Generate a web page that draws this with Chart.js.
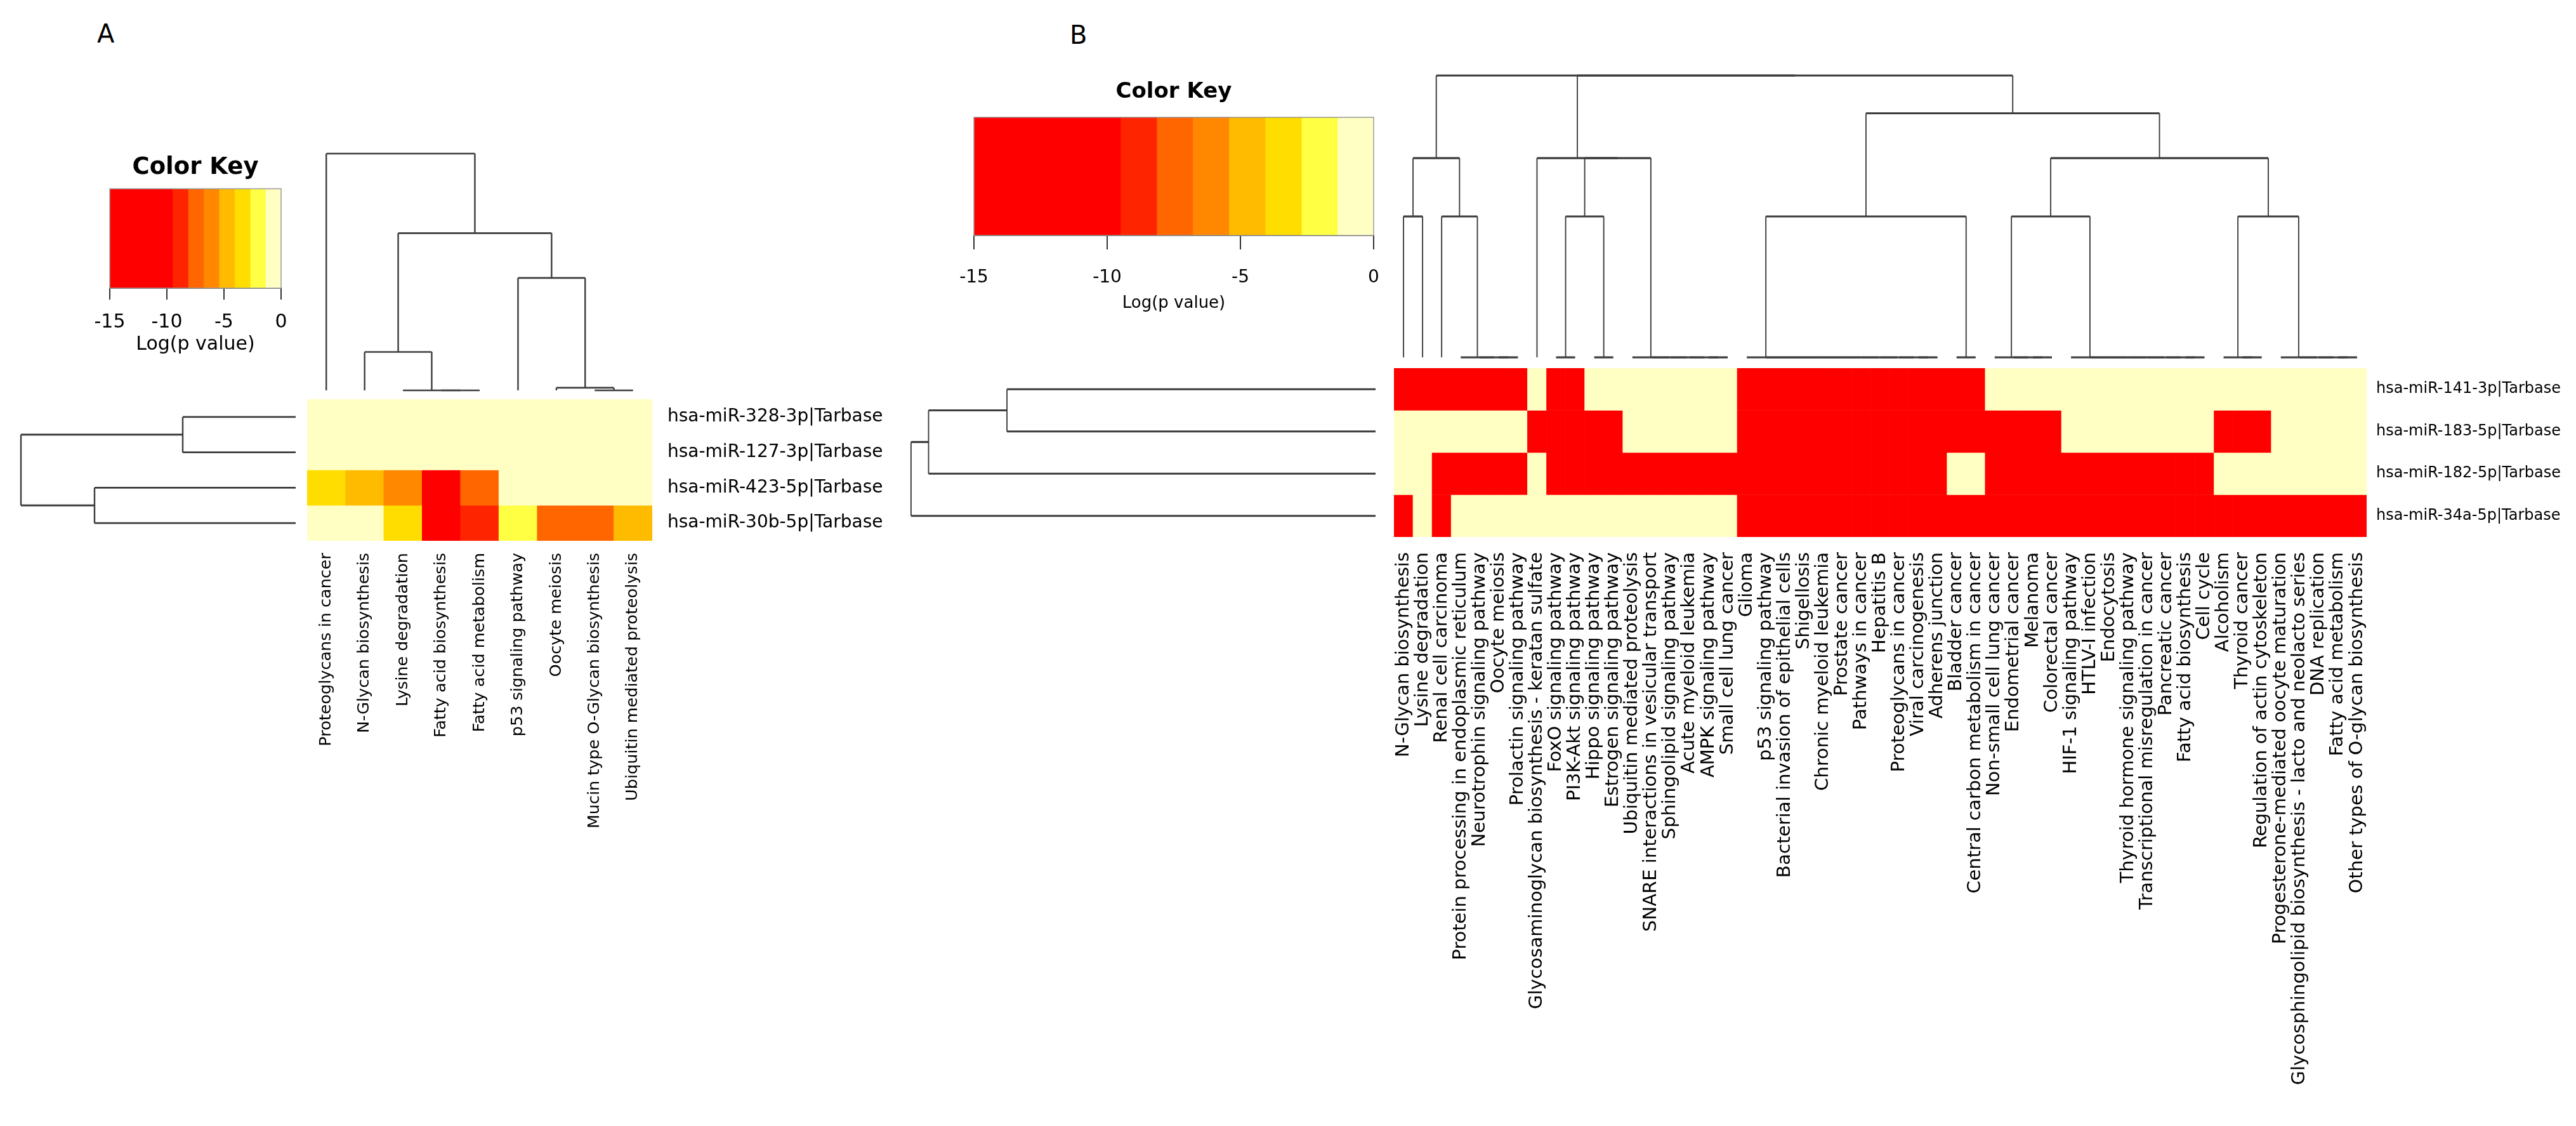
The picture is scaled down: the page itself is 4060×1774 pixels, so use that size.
<!DOCTYPE html>
<html>
<head>
<meta charset="utf-8">
<title>miRNA pathway heatmaps</title>
<script src="https://cdn.jsdelivr.net/npm/chart.js@4.4.1/dist/chart.umd.min.js"></script>
<style>
  html, body { margin: 0; padding: 0; background: #fff; }
  body { width: 4060px; height: 1774px; position: relative; overflow: hidden; font-family: "DejaVu Sans", sans-serif; }
  canvas { position: absolute; }
  .panel_letter { position: absolute; font-size: 40px; line-height: 40px; color: #000; }
</style>
</head>
<body>
<div class="panel_letter" style="left:153px;top:33px">A</div>
<div class="panel_letter" style="left:1686px;top:35px">B</div>
<script>
// ---- colour key: log(p value) bands ----
let keyBreaks = [-15, -9.5, -8.14, -6.79, -5.43, -4.07, -2.71, -1.36, 0];
let keyColors = ["#ff0000", "#ff2400", "#ff6600", "#ff8800", "#ffbb00", "#ffdd00", "#ffff44", "#ffffc4"];
let keyTicks = [-15, -10, -5, 0];

// ---- panel A ----
let pathwaysA = ["Proteoglycans in cancer", "N-Glycan biosynthesis", "Lysine degradation",
  "Fatty acid biosynthesis", "Fatty acid metabolism", "p53 signaling pathway", "Oocyte meiosis",
  "Mucin type O-Glycan biosynthesis", "Ubiquitin mediated proteolysis"];
let mirnasA = ["hsa-miR-328-3p|Tarbase", "hsa-miR-127-3p|Tarbase", "hsa-miR-423-5p|Tarbase", "hsa-miR-30b-5p|Tarbase"];
let logpA_328 = [0, 0, 0, 0, 0, 0, 0, 0, 0];
let logpA_127 = [0, 0, 0, 0, 0, 0, 0, 0, 0];
let logpA_423 = [-3.4, -4.8, -6.2, -13.0, -7.4, 0, 0, 0, 0];
let logpA_30b = [0, 0, -3.4, -13.0, -8.8, -2.0, -7.4, -7.4, -4.8];
// trees: [left, right, height]  negative = leaf (1-based position), positive = earlier merge
let colMergeA = [[-8, -9, 0], [-7, 1, 0.11], [-4, -5, 0], [-3, 3, 0], [-2, 4, 1.62],
  [-6, 2, 4.75], [5, 6, 6.64], [-1, 7, 10]];
let rowMergeA = [[-1, -2, 1.78], [-3, -4, 3.17], [1, 2, 4.33]];

// ---- panel B ----
let pathwaysB = ["N-Glycan biosynthesis", "Lysine degradation", "Renal cell carcinoma",
  "Protein processing in endoplasmic reticulum", "Neurotrophin signaling pathway", "Oocyte meiosis",
  "Prolactin signaling pathway", "Glycosaminoglycan biosynthesis - keratan sulfate", "FoxO signaling pathway",
  "PI3K-Akt signaling pathway", "Hippo signaling pathway", "Estrogen signaling pathway",
  "Ubiquitin mediated proteolysis", "SNARE interactions in vesicular transport", "Sphingolipid signaling pathway",
  "Acute myeloid leukemia", "AMPK signaling pathway", "Small cell lung cancer", "Glioma",
  "p53 signaling pathway", "Bacterial invasion of epithelial cells", "Shigellosis", "Chronic myeloid leukemia",
  "Prostate cancer", "Pathways in cancer", "Hepatitis B", "Proteoglycans in cancer", "Viral carcinogenesis",
  "Adherens junction", "Bladder cancer", "Central carbon metabolism in cancer", "Non-small cell lung cancer",
  "Endometrial cancer", "Melanoma", "Colorectal cancer", "HIF-1 signaling pathway", "HTLV-I infection",
  "Endocytosis", "Thyroid hormone signaling pathway", "Transcriptional misregulation in cancer",
  "Pancreatic cancer", "Fatty acid biosynthesis", "Cell cycle", "Alcoholism", "Thyroid cancer",
  "Regulation of actin cytoskeleton", "Progesterone-mediated oocyte maturation",
  "Glycosphingolipid biosynthesis - lacto and neolacto series", "DNA replication", "Fatty acid metabolism",
  "Other types of O-glycan biosynthesis"];
let mirnasB = ["hsa-miR-141-3p|Tarbase", "hsa-miR-183-5p|Tarbase", "hsa-miR-182-5p|Tarbase", "hsa-miR-34a-5p|Tarbase"];
let logpB_141 = [-12, -12, -12, -12, -12, -12, -12, 0, -12, -12,
  0, 0, 0, 0, 0, 0, 0, 0, -12, -12,
  -12, -12, -12, -12, -12, -12, -12, -12, -12, -12,
  -12, 0, 0, 0, 0, 0, 0, 0, 0, 0,
  0, 0, 0, 0, 0, 0, 0, 0, 0, 0,
  0];
let logpB_183 = [0, 0, 0, 0, 0, 0, 0, -12, -12, -12,
  -12, -12, 0, 0, 0, 0, 0, 0, -12, -12,
  -12, -12, -12, -12, -12, -12, -12, -12, -12, -12,
  -12, -12, -12, -12, -12, 0, 0, 0, 0, 0,
  0, 0, 0, -12, -12, -12, 0, 0, 0, 0,
  0];
let logpB_182 = [0, 0, -12, -12, -12, -12, -12, 0, -12, -12,
  -12, -12, -12, -12, -12, -12, -12, -12, -12, -12,
  -12, -12, -12, -12, -12, -12, -12, -12, -12, 0,
  0, -12, -12, -12, -12, -12, -12, -12, -12, -12,
  -12, -12, -12, 0, 0, 0, 0, 0, 0, 0,
  0];
let logpB_34a = [-12, 0, -12, 0, 0, 0, 0, 0, 0, 0,
  0, 0, 0, 0, 0, 0, 0, 0, -12, -12,
  -12, -12, -12, -12, -12, -12, -12, -12, -12, -12,
  -12, -12, -12, -12, -12, -12, -12, -12, -12, -12,
  -12, -12, -12, -12, -12, -12, -12, -12, -12, -12,
  -12];
let colMergeB = [[-6, -7, 0], [-5, 1, 0], [-4, 2, 0], [-1, -2, 1], [-3, 3, 1], [4, 5, 1.414],
  [-9, -10, 0], [-11, -12, 0], [7, 8, 1], [-17, -18, 0], [-16, 10, 0], [-15, 11, 0], [-14, 12, 0],
  [-13, 13, 0], [9, 14, 1.414], [-8, 15, 1.414],
  [-28, -29, 0], [-27, 17, 0], [-26, 18, 0], [-25, 19, 0], [-24, 20, 0], [-23, 21, 0], [-22, 22, 0],
  [-21, 23, 0], [-20, 24, 0], [-19, 25, 0], [-30, -31, 0], [26, 27, 1],
  [-34, -35, 0], [-33, 29, 0], [-32, 30, 0], [-42, -43, 0], [-41, 32, 0], [-40, 33, 0], [-39, 34, 0],
  [-38, 35, 0], [-37, 36, 0], [-36, 37, 0], [31, 38, 1], [-45, -46, 0], [-44, 40, 0],
  [-50, -51, 0], [-49, 42, 0], [-48, 43, 0], [-47, 44, 0], [41, 45, 1], [39, 46, 1.414],
  [28, 47, 1.732], [16, 48, 2], [6, 49, 2]];
let rowMergeB = [[-1, -2, 4.123], [-3, 1, 5.0], [2, -4, 5.196]];

// ---- page layout (pixels) ----
let heatA = { left: 484, top: 629, right: 1028, bottom: 852 };
let heatB = { left: 2197, top: 580, right: 3730, bottom: 846 };

Chart.defaults.font.family = "'DejaVu Sans', sans-serif";
Chart.defaults.color = "#000";

function placeCanvas(left, top, width, height) {
  let cv = document.createElement("canvas");
  cv.width = width;
  cv.height = height;
  cv.style.left = left + "px";
  cv.style.top = top + "px";
  cv.style.width = width + "px";
  cv.style.height = height + "px";
  document.body.appendChild(cv);
  return cv;
}

function heatColor(v) {
  for (let i = 0; i < keyColors.length; i++) {
    if (v < keyBreaks[i + 1]) return keyColors[i];
  }
  return keyColors[keyColors.length - 1];
}

// light grey frame round the key strip
let keyFrame = {
  id: "keyFrame",
  afterDatasetsDraw(chart) {
    let a = chart.chartArea, ctx = chart.ctx;
    ctx.save();
    ctx.strokeStyle = "#9a9a9a";
    ctx.lineWidth = 1.5;
    ctx.strokeRect(a.left, a.top, a.right - a.left, a.bottom - a.top);
    ctx.restore();
  }
};

function drawKey(box, st) {
  let pad = 45;
  let cv = placeCanvas(box.left - pad, st.canvasTop, box.right - box.left + 2 * pad, st.canvasBottom - st.canvasTop);
  let datasets = keyColors.map((c, i) => ({
    data: [[keyBreaks[i], keyBreaks[i + 1]]],
    backgroundColor: c,
    borderWidth: 0,
    grouped: false,
    barPercentage: 1,
    categoryPercentage: 1
  }));
  new Chart(cv, {
    type: "bar",
    data: { labels: ["key"], datasets: datasets },
    options: {
      indexAxis: "y",
      responsive: false,
      animation: false,
      events: [],
      layout: { padding: { left: pad, right: pad, top: 0, bottom: 0 } },
      plugins: {
        legend: { display: false },
        tooltip: { enabled: false },
        title: {
          display: true, text: "Color Key", color: "#000",
          font: { size: st.titleSize, weight: "bold" },
          padding: { top: 0, bottom: st.canvasTopGap }
        }
      },
      scales: {
        x: {
          type: "linear", min: keyTicks[0], max: keyTicks[keyTicks.length - 1],
          afterBuildTicks: (axis) => { axis.ticks = keyTicks.map((v) => ({ value: v })); },
          grid: { drawOnChartArea: false, drawTicks: true, tickLength: st.tickLen, color: "#333", lineWidth: 2 },
          border: { display: true, color: "#333", width: 2 },
          ticks: { font: { size: st.tickFont }, color: "#000", padding: st.tickPad },
          title: { display: true, text: "Log(p value)", color: "#000", font: { size: st.axisFont }, padding: 0 },
          afterFit: (axis) => {
            axis.height = st.canvasBottom - box.bottom;
            axis.paddingLeft = 0;
            axis.paddingRight = 0;
          }
        },
        y: { display: false }
      }
    },
    plugins: [keyFrame]
  });
}

function drawHeatmap(box, cols, rows, values, st) {
  let padLeft = 20;
  let left = box.left - padLeft;
  let cv = placeCanvas(left, box.top, st.canvasRight - left, 1774 - box.top);
  let datasets = rows.map((name, r) => ({
    label: name,
    data: cols.map(() => 1),
    backgroundColor: values[r].map(heatColor),
    borderWidth: 0,
    barPercentage: 1,
    categoryPercentage: 1
  }));
  new Chart(cv, {
    type: "bar",
    data: { labels: cols, datasets: datasets },
    options: {
      responsive: false,
      animation: false,
      events: [],
      layout: { padding: { left: padLeft, top: 0, right: 0, bottom: 0 } },
      plugins: { legend: { display: false }, tooltip: { enabled: false } },
      scales: {
        x: {
          stacked: true,
          grid: { display: false, drawTicks: false },
          border: { display: false },
          ticks: { autoSkip: false, minRotation: 90, maxRotation: 90, padding: st.colPad, font: { size: st.colFont }, color: "#000" },
          afterFit: (axis) => {
            axis.height = 1774 - box.bottom;
            axis.paddingLeft = 0;
            axis.paddingRight = 0;
          }
        },
        y: {
          stacked: true, reverse: true, min: 0, max: rows.length, position: "right",
          grid: { display: false, drawTicks: false },
          border: { display: false },
          afterBuildTicks: (axis) => { axis.ticks = rows.map((n, i) => ({ value: i + 0.5 })); },
          ticks: { callback: (v, i) => rows[i], padding: st.rowPad, font: { size: st.rowFont }, color: "#000" },
          afterFit: (axis) => {
            axis.width = st.canvasRight - box.right;
            axis.paddingTop = 0;
            axis.paddingBottom = 0;
          }
        }
      }
    }
  });
}

// turn the merge table into elbow polylines [position, height]
function treeSegments(merges) {
  let pos = [], hgt = [], segs = [];
  function at(ref) { return ref < 0 ? [-ref - 1, 0] : [pos[ref - 1], hgt[ref - 1]]; }
  merges.forEach((m, i) => {
    let a = at(m[0]), b = at(m[1]), h = m[2];
    pos[i] = (a[0] + b[0]) / 2;
    hgt[i] = h;
    segs.push([[a[0], a[1]], [a[0], h], [b[0], h], [b[0], b[1]]]);
  });
  return segs;
}

// lw.h = width of lines running across the page, lw.v = width of upright lines
function drawTree(cv, merges, n, isRow, hRange, lw) {
  let datasets = treeSegments(merges).map((s) => ({
    data: s.map((p) => isRow ? { x: p[1], y: p[0] } : { x: p[0], y: p[1] }),
    showLine: true,
    borderColor: "#3c3c3c",
    borderWidth: lw.v,
    segment: { borderWidth: (ctx) => (Math.abs(ctx.p0.y - ctx.p1.y) < 0.5 ? lw.h : lw.v) },
    pointRadius: 0,
    fill: false,
    tension: 0
  }));
  let posAxis = { type: "linear", min: -0.5, max: n - 0.5, display: false };
  let hAxis = { type: "linear", min: hRange.min, max: hRange.max, display: false };
  new Chart(cv, {
    type: "scatter",
    data: { datasets: datasets },
    options: {
      responsive: false,
      animation: false,
      events: [],
      layout: { padding: 0 },
      plugins: { legend: { display: false }, tooltip: { enabled: false } },
      scales: isRow
        ? { x: Object.assign({ reverse: true }, hAxis), y: Object.assign({ reverse: true }, posAxis) }
        : { x: posAxis, y: hAxis }
    }
  });
}

function drawColTree(merges, n, box, top, leafY, unit, lw) {
  let bottom = leafY + 10;
  let cv = placeCanvas(box.left, top, box.right - box.left, bottom - top);
  drawTree(cv, merges, n, false, { min: (leafY - bottom) / unit, max: (leafY - top) / unit }, lw);
}

function drawRowTree(merges, n, box, left, leafX, unit, lw) {
  let right = leafX + 10;
  let cv = placeCanvas(left, box.top, right - left, box.bottom - box.top);
  drawTree(cv, merges, n, true, { min: (leafX - right) / unit, max: (leafX - left) / unit }, lw);
}

// ---- panel A ----
drawKey({ left: 173, top: 297, right: 443, bottom: 454 },
  { canvasTop: 242, canvasTopGap: 11, canvasBottom: 561, titleSize: 37, tickLen: 18, tickFont: 30, tickPad: 18, axisFont: 30 });
drawColTree(colMergeA, pathwaysA.length, heatA, 232, 615, 37.3, { h: 2.6, v: 2.4 });
drawRowTree(rowMergeA, mirnasA.length, heatA, 20, 466, 100, { h: 2.8, v: 2.4 });
drawHeatmap(heatA, pathwaysA, mirnasA, [logpA_328, logpA_127, logpA_423, logpA_30b],
  { canvasRight: 1440, colPad: 19, colFont: 25.5, rowPad: 24, rowFont: 28 });

// ---- panel B ----
drawKey({ left: 1535, top: 185, right: 2165, bottom: 371 },
  { canvasTop: 125, canvasTopGap: 19, canvasBottom: 494, titleSize: 34, tickLen: 22, tickFont: 28, tickPad: 28, axisFont: 26 });
drawColTree(colMergeB, pathwaysB.length, heatB, 100, 563, 222, { h: 3.2, v: 1.9 });
drawRowTree(rowMergeB, mirnasB.length, heatB, 1420, 2168, 140.9, { h: 3.2, v: 1.9 });
drawHeatmap(heatB, pathwaysB, mirnasB, [logpB_141, logpB_183, logpB_182, logpB_34a],
  { canvasRight: 4060, colPad: 24, colFont: 29, rowPad: 15, rowFont: 24 });
</script>
</body>
</html>
